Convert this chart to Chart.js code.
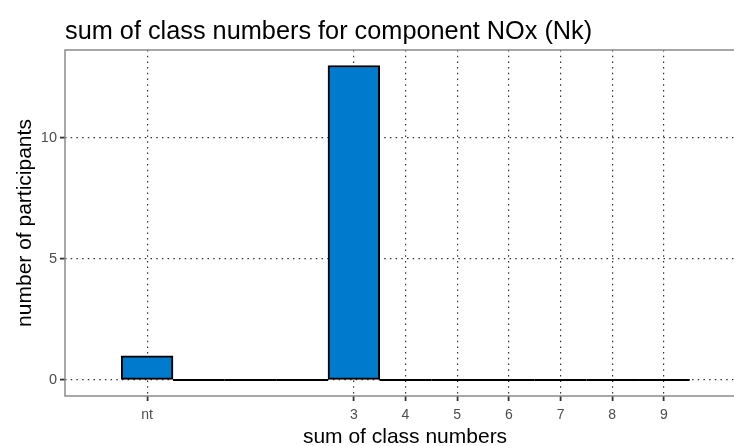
<!DOCTYPE html>
<html>
<head>
<meta charset="utf-8">
<script src="https://cdn.jsdelivr.net/npm/chart.js@4/dist/chart.umd.min.js"></script>
<style>
  html, body { margin: 0; padding: 0; background: #fff; overflow: hidden; }
  #wrap { width: 760px; height: 446px; }
</style>
</head>
<body>
<div id="wrap"><canvas id="chart" width="760" height="446"></canvas></div>
<script>
// bin centres on the x axis; "nt" sits at -1
const binCenters = [-1, 0, 1, 2, 3, 4, 5, 6, 7, 8, 9];
const participants = [1, 0, 0, 0, 13, 0, 0, 0, 0, 0, 0];
const xTickValues = [-1, 3, 4, 5, 6, 7, 8, 9];
const xTickLabels = ['nt', '3', '4', '5', '6', '7', '8', '9'];
const yTickValues = [0, 5, 10];

const chartTitle = 'sum of class numbers for component NOx (Nk)';
const FONT = '"Liberation Sans", Arial, sans-serif';

// draws the panel frame, the title, and the zero-height bars as flat lines
const panelPlugin = {
  id: 'panel',
  afterDatasetsDraw(chart) {
    const ctx = chart.ctx;
    const meta = chart.getDatasetMeta(0);
    ctx.save();
    ctx.strokeStyle = '#000';
    ctx.lineWidth = 2;
    meta.data.forEach((bar, i) => {
      if (participants[i] !== 0) return;
      const p = bar.getProps(['x', 'width', 'base'], true);
      ctx.beginPath();
      ctx.moveTo(p.x - p.width / 2, p.base);
      ctx.lineTo(p.x + p.width / 2, p.base);
      ctx.stroke();
    });
    ctx.restore();
  },
  afterDraw(chart) {
    const ctx = chart.ctx;
    const a = chart.chartArea;
    ctx.save();
    ctx.strokeStyle = '#8a8a8a';
    ctx.lineWidth = 1.5;
    ctx.strokeRect(a.left, a.top, a.right - a.left, a.bottom - a.top);
    ctx.fillStyle = '#000';
    ctx.font = '25.3px ' + FONT;
    ctx.textBaseline = 'alphabetic';
    ctx.textAlign = 'left';
    ctx.fillText(chartTitle, a.left, 39);
    ctx.restore();
  }
};

new Chart(document.getElementById('chart'), {
  type: 'bar',
  data: {
    datasets: [{
      data: binCenters.map((x, i) => ({ x: x, y: participants[i] })),
      backgroundColor: '#007acc',
      borderColor: '#000',
      borderWidth: 2,
      borderSkipped: false,
      barPercentage: 1,
      categoryPercentage: 1
    }]
  },
  options: {
    responsive: false,
    animation: false,
    devicePixelRatio: 1,
    layout: { padding: { top: 50, left: 0, right: 15, bottom: 0 } },
    plugins: {
      legend: { display: false },
      tooltip: { enabled: false },
      title: { display: false }
    },
    scales: {
      x: {
        type: 'linear',
        offset: false,
        min: -2.59,
        max: 10.57,
        afterBuildTicks: scale => { scale.ticks = xTickValues.map(v => ({ value: v })); },
        afterFit: scale => { scale.height = 50; },
        ticks: {
          autoSkip: false,
          maxRotation: 0,
          padding: 6,
          color: '#4d4d4d',
          font: { family: FONT, size: 14 },
          callback: v => xTickLabels[xTickValues.indexOf(v)]
        },
        grid: {
          offset: false,
          color: '#333',
          lineWidth: 1.2,
          tickLength: 5,
          tickColor: '#333',
          tickWidth: 1.8,
          tickBorderDash: []
        },
        border: { display: false, dash: [1.5, 4.2] },
        title: {
          display: true,
          text: 'sum of class numbers',
          color: '#000',
          font: { family: FONT, size: 21, lineHeight: 0.85 },
          padding: { top: 0, bottom: 0 }
        }
      },
      y: {
        min: -0.66,
        max: 13.64,
        afterBuildTicks: scale => { scale.ticks = yTickValues.map(v => ({ value: v })); },
        afterFit: scale => { scale.width = 65; },
        ticks: {
          padding: 3,
          color: '#4d4d4d',
          font: { family: FONT, size: 14.5 }
        },
        grid: {
          color: '#333',
          lineWidth: 1.2,
          tickLength: 5,
          tickColor: '#333',
          tickWidth: 1.8,
          tickBorderDash: []
        },
        border: { display: false, dash: [1.5, 4.2] },
        title: {
          display: true,
          text: 'number of participants',
          color: '#000',
          font: { family: FONT, size: 21 },
          padding: { top: 13, bottom: 0 }
        }
      }
    }
  },
  plugins: [panelPlugin]
});
</script>
</body>
</html>
